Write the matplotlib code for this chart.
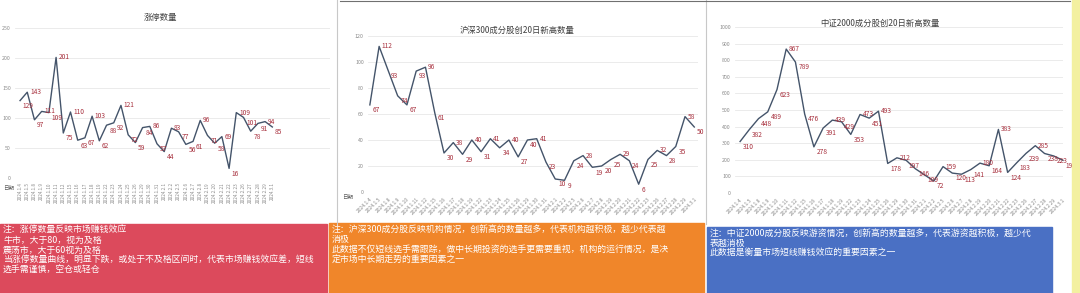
import numpy as np
import matplotlib
matplotlib.use('Agg')
import matplotlib.pyplot as plt
from matplotlib.patches import Rectangle

plt.rcParams['font.family'] = ['Noto Sans CJK SC', 'DejaVu Sans']
plt.rcParams['axes.unicode_minus'] = False

# 1. Data
dates = ['2024.1.4', '2024.1.5', '2024.1.8', '2024.1.9', '2024.1.10', '2024.1.11',
         '2024.1.12', '2024.1.15', '2024.1.16', '2024.1.17', '2024.1.18', '2024.1.19',
         '2024.1.22', '2024.1.23', '2024.1.24', '2024.1.25', '2024.1.26', '2024.1.29',
         '2024.1.30', '2024.1.31', '2024.2.1', '2024.2.2', '2024.2.5', '2024.2.6',
         '2024.2.7', '2024.2.8', '2024.2.19', '2024.2.20', '2024.2.21', '2024.2.22',
         '2024.2.23', '2024.2.26', '2024.2.27', '2024.2.28', '2024.2.29', '2024.3.1']

limit_up = [129, 143, 97, 111, 109, 201, 75, 110, 63, 67, 103, 62, 88, 92, 121, 72, 59, 84,
            86, 57, 44, 83, 77, 56, 61, 96, 71, 58, 69, 16, 109, 101, 78, 91, 94, 85]
hs300_high = [67, 112, 93, 74, 67, 93, 96, 61, 30, 38, 29, 40, 31, 41, 34, 40, 27, 40,
              41, 23, 10, 9, 24, 28, 19, 20, 25, 29, 24, 6, 25, 32, 28, 35, 58, 50]
zz2000_high = [310, 382, 448, 489, 623, 867, 789, 476, 278, 391, 439, 429, 353, 473, 451, 493,
               178, 212, 197, 146, 109, 72, 159, 120, 113, 141, 180, 164, 383, 124, 183, 239,
               285, 238, 223, 197]

titles = ['涨停数量', '沪深300成分股创20日新高数量', '中证2000成分股创20日新高数量']

note_red = ('注：涨停数量反映市场赚钱效应\n'
            '牛市，大于80，视为及格\n'
            '震荡市，大于60视为及格\n'
            '当涨停数量曲线，明显下跌，或处于不及格区间时，代表市场赚钱效应差，短线\n'
            '选手需谨慎，空仓或轻仓')
note_orange = ('注：沪深300成分股反映机构情况，创新高的数量越多，代表机构越积极，越少代表越\n'
               '消极\n'
               '此数据不仅短线选手需跟踪，做中长期投资的选手更需要重视，机构的运行情况，是决\n'
               '定市场中长期走势的重要因素之一')
note_blue = ('注：中证2000成分股反映游资情况，创新高的数量越多，代表游资越积极，越少代\n'
             '表越消极\n'
             '此数据是衡量市场短线赚钱效应的重要因素之一')

# 2. Figure in pixel coordinates
W, H = 1080, 293
fig = plt.figure(figsize=(W / 100, H / 100), dpi=100)
fig.patch.set_facecolor('white')


def px_axes(l, t, r, b):
    return fig.add_axes([l / W, 1 - b / H, (r - l) / W, (b - t) / H])


def fx(x):
    return x / W


def fy(y):
    return 1 - y / H


def draw_chart(ax, vals, ymax, ystep, xlim, rot):
    x = np.arange(len(vals))
    ax.plot(x, vals, color='#44546a', lw=1.0, clip_on=False, zorder=3)
    ax.set_ylim(0, ymax)
    ax.set_xlim(*xlim)
    ax.set_yticks(np.arange(0, ymax + 1, ystep))
    ax.grid(axis='y', color='#e8e8e8', lw=0.6)
    for s in ax.spines.values():
        s.set_visible(False)
    ax.tick_params(length=0, labelsize=3.8, labelcolor='#8a8a8a', pad=3)
    ax.set_xticks(x)
    if rot == 90:
        ax.set_xticklabels(dates, rotation=90, ha='center', va='top', fontsize=3.3)
    else:
        ax.set_xticklabels(dates, rotation=45, ha='right', rotation_mode='anchor', fontsize=3.6)
    # data labels
    for i, v in enumerate(vals):
        prev_v = vals[i - 1] if i > 0 else v - 1
        next_v = vals[i + 1] if i < len(vals) - 1 else v - 1
        if v >= prev_v and v >= next_v:
            off, va = (2, 0), 'center'
        else:
            off, va = (2, -1), 'top'
        ax.annotate(str(v), (i, v), xytext=off, textcoords='offset points',
                    fontsize=4.8, color='#a8323f', ha='left', va=va, zorder=4)


ax1 = px_axes(15, 28, 330, 178)
draw_chart(ax1, limit_up, 250, 50, (-0.7, 43), 90)
ax2 = px_axes(368, 36, 698, 192)
draw_chart(ax2, hs300_high, 120, 20, (-0.2, 35.4), 45)
ax3 = px_axes(735, 27, 1063, 193)
draw_chart(ax3, zz2000_high, 1000, 100, (-0.55, 34.8), 45)

# titles and axis names
fig.text(fx(160), fy(17), titles[0], fontsize=6, color='#404040', ha='center', va='center')
fig.text(fx(517), fy(30), titles[1], fontsize=6, color='#404040', ha='center', va='center')
fig.text(fx(880), fy(23), titles[2], fontsize=6, color='#404040', ha='center', va='center')
fig.text(fx(9), fy(188), '日期', fontsize=4, color='#606060', ha='center', va='center')
fig.text(fx(348), fy(197), '日期', fontsize=4, color='#606060', ha='center', va='center')

# panel separators and spreadsheet strips
fig.add_artist(plt.Line2D([fx(337), fx(337)], [fy(0), fy(224)], color='#c8c8c8', lw=0.8))
fig.add_artist(plt.Line2D([fx(706), fx(706)], [fy(0), fy(224)], color='#c8c8c8', lw=0.8))
fig.add_artist(plt.Line2D([fx(340), fx(1070)], [fy(1), fy(1)], color='#707070', lw=0.8))
fig.add_artist(Rectangle((fx(1072), 0), fx(8), 1, color='#f3f0a0', transform=fig.transFigure))

# 3. Note boxes
boxes = [(0, 224, 327, note_red, '#dc4a5c'),
         (329, 223, 704, note_orange, '#f0862a'),
         (707, 227, 1052, note_blue, '#4a70c4')]
for l, t, r, txt, col in boxes:
    fig.add_artist(Rectangle((fx(l), 0), fx(r - l), 1 - fy(H - t) if False else (H - t) / H,
                             color=col, transform=fig.transFigure))
    fig.text(fx(l + 3), fy(t + 2), txt, fontsize=6.4, color='white', ha='left', va='top',
             linespacing=1.15)

fig.savefig('out.png', dpi=100)
